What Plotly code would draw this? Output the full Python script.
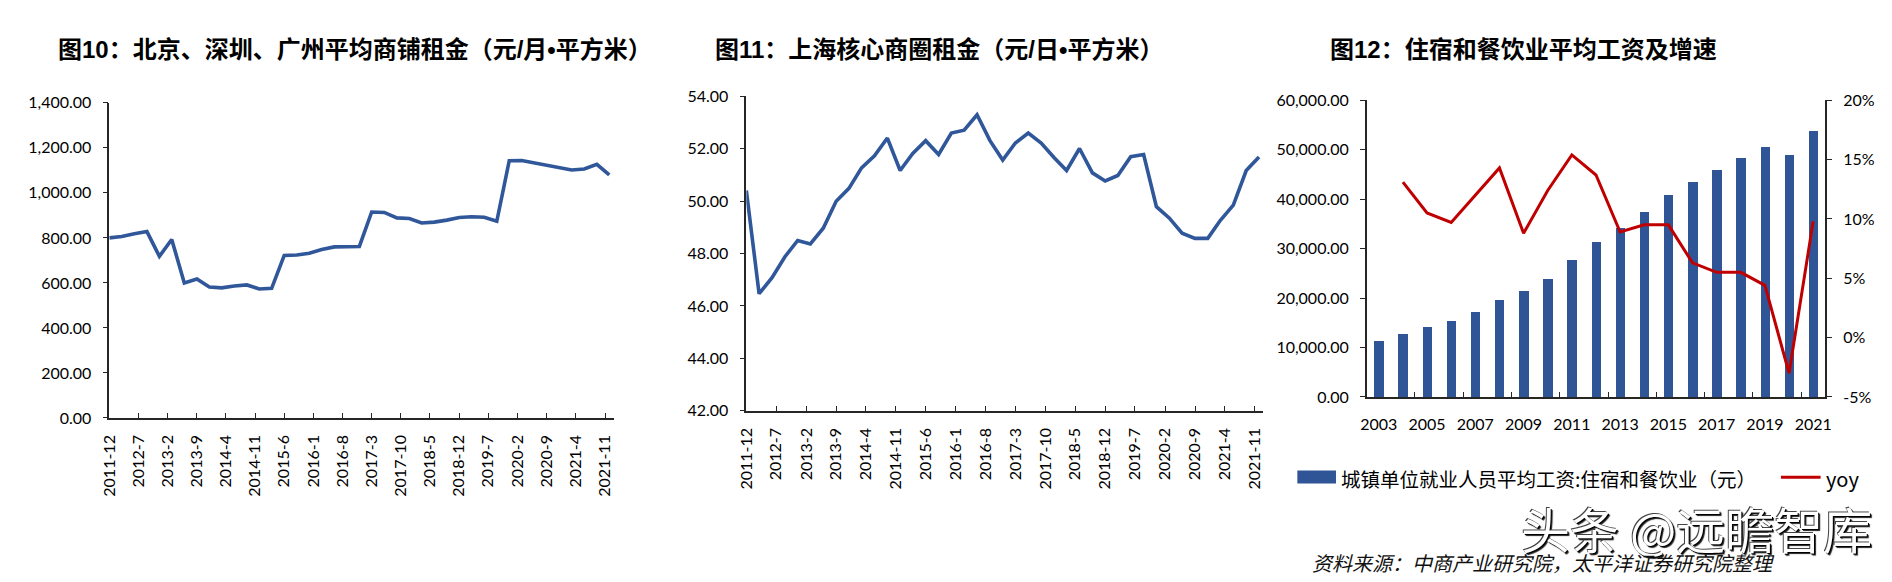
import plotly.graph_objects as go

W, H = 1892, 582

# ---------------- data ----------------
# quarterly observation months (shared by chart 1 and chart 2)
quarters = [
    "2011-12", "2012-03", "2012-06", "2012-09", "2012-12", "2013-03", "2013-06", "2013-09",
    "2013-12", "2014-03", "2014-06", "2014-09", "2014-12", "2015-03", "2015-06", "2015-09",
    "2015-12", "2016-03", "2016-06", "2016-09", "2016-12", "2017-03", "2017-06", "2017-09",
    "2017-12", "2018-03", "2018-06", "2018-09", "2018-12", "2019-03", "2019-06", "2019-09",
    "2019-12", "2020-03", "2020-06", "2020-09", "2020-12", "2021-03", "2021-06", "2021-09",
    "2021-12",
]

# 图10: 北京、深圳、广州平均商铺租金 (元/月·平方米)
rent_bsg = [
    800, 806, 818, 828, 718, 793, 600, 617, 582, 578,
    586, 591, 573, 576, 722, 724, 732, 748, 760, 760,
    762, 915, 913, 889, 886, 866, 870, 879, 891, 894,
    892, 874, 1143, 1144, 1133, 1122, 1109, 1102, 1106, 1127,
    1080,
]

# 图11: 上海核心商圈租金 (元/日·平方米)
rent_sh = [
    50.41, 46.47, 47.08, 47.88, 48.50, 48.37, 48.97, 50.00, 50.49, 51.27,
    51.73, 52.41, 51.17, 51.82, 52.31, 51.78, 52.60, 52.71, 53.30, 52.31,
    51.57, 52.22, 52.60, 52.22, 51.67, 51.17, 52.01, 51.08, 50.77, 50.98,
    51.70, 51.78, 49.79, 49.36, 48.78, 48.58, 48.58, 49.27, 49.85, 51.17,
    51.69,
]

month_tick_labels = [
    "2011-12", "2012-7", "2013-2", "2013-9", "2014-4", "2014-11", "2015-6", "2016-1",
    "2016-8", "2017-3", "2017-10", "2018-5", "2018-12", "2019-7", "2020-2", "2020-9",
    "2021-4", "2021-11",
]

# 图12: 住宿和餐饮业平均工资及增速
years = [2003, 2004, 2005, 2006, 2007, 2008, 2009, 2010, 2011, 2012,
         2013, 2014, 2015, 2016, 2017, 2018, 2019, 2020, 2021]
wage = [11200, 12650, 14090, 15330, 17150, 19560, 21330, 23870, 27590, 31300,
        34110, 37300, 40830, 43440, 45780, 48260, 50480, 48910, 53740]
yoy = [None, 13.1, 10.5, 9.7, 12.0, 14.3, 8.8, 12.4, 15.4, 13.7,
       8.9, 9.5, 9.5, 6.3, 5.5, 5.5, 4.4, -3.0, 9.8]
year_tick_labels = ["2003", "2005", "2007", "2009", "2011", "2013", "2015", "2017", "2019", "2021"]
pct_ticks = [-5, 0, 5, 10, 15, 20]
pct_tick_labels = ["-5%", "0%", "5%", "10%", "15%", "20%"]

titles = [
    "图10：北京、深圳、广州平均商铺租金（元/月•平方米）",
    "图11：上海核心商圈租金（元/日•平方米）",
    "图12：住宿和餐饮业平均工资及增速",
]
legend_bar = "城镇单位就业人员平均工资:住宿和餐饮业（元）"
legend_line = "yoy"
source_text = "资料来源：中商产业研究院，太平洋证券研究院整理"
watermark = "头条 @远瞻智库"

# ---------------- styles ----------------
BLUE = "#30579A"
BAR_BLUE = "#2F5597"
RED = "#C00000"
AXIS = "#262626"
TICKFONT = dict(family="Lato, 'Liberation Sans', sans-serif", size=16, color="#000000")
CJK = "'Noto Sans CJK SC', 'Noto Sans', sans-serif"
TITLE_FONT = "'Liberation Sans', 'Noto Sans CJK SC', sans-serif"


def px_x(p):
    return p / W


def px_y(p):
    return 1 - p / H


def month_date(s):
    y, m = s.split("-")
    return f"{y}-{int(m):02d}-01"


q_dates = [month_date(q) for q in quarters]
tick_dates = [month_date(t) for t in month_tick_labels]

fig = go.Figure()

fig.add_trace(go.Scatter(x=q_dates, y=rent_bsg, mode="lines", xaxis="x", yaxis="y",
                         line=dict(color=BLUE, width=3.6), showlegend=False))
fig.add_trace(go.Scatter(x=q_dates, y=rent_sh, mode="lines", xaxis="x2", yaxis="y2",
                         line=dict(color=BLUE, width=3.6), showlegend=False))
fig.add_trace(go.Bar(x=years, y=wage, xaxis="x3", yaxis="y3", width=0.39,
                     marker=dict(color=BAR_BLUE, line=dict(width=0)), showlegend=False))
fig.add_trace(go.Scatter(x=years, y=yoy, mode="lines", xaxis="x3", yaxis="y4",
                         line=dict(color=RED, width=3), connectgaps=False, showlegend=False))

common_axis = dict(showline=True, linecolor=AXIS, linewidth=1.5, showgrid=False,
                   zeroline=False, tickfont=TICKFONT, tickcolor=AXIS, tickwidth=1.3)

date_x = dict(common_axis, type="date", range=["2011-12-01", "2022-01-01"],
              tickmode="array", tickvals=tick_dates, ticktext=month_tick_labels,
              tickangle=-90, ticks="inside", ticklen=5, ticklabelstandoff=9)

fig.update_layout(
    width=W, height=H, autosize=False,
    margin=dict(l=0, r=0, t=0, b=0),
    paper_bgcolor="white", plot_bgcolor="white",
    showlegend=False,
    bargap=0,
    xaxis=dict(date_x, domain=[px_x(99.2), px_x(608)], anchor="y"),
    yaxis=dict(common_axis, domain=[px_y(421.7), px_y(96)], anchor="x",
               range=[0, 1400], dtick=200, tickformat=",.2f",
               ticks="outside", ticklen=5, ticklabelstandoff=8),
    xaxis2=dict(date_x, domain=[px_x(742), px_x(1263.7)], anchor="y2"),
    yaxis2=dict(common_axis, domain=[px_y(414.3), px_y(89.3)], anchor="x2",
                range=[42, 54], dtick=2, tickformat=".2f",
                ticks="outside", ticklen=5, ticklabelstandoff=8),
    xaxis3=dict(common_axis, domain=[px_x(1368), px_x(1830.7)], anchor="y3",
                range=[2002.5, 2021.5], tickmode="array",
                tickvals=[int(t) for t in year_tick_labels], ticktext=year_tick_labels,
                ticks="", ticklabelstandoff=12,
                minor=dict(tickmode="linear", tick0=2004.5, dtick=2, ticks="inside",
                           ticklen=5, tickcolor=AXIS, tickwidth=1.3, showgrid=False)),
    yaxis3=dict(common_axis, domain=[px_y(400), px_y(93.3)], anchor="x3",
                range=[0, 60000], dtick=10000, tickformat=",.2f",
                ticks="outside", ticklen=5, ticklabelstandoff=8),
    yaxis4=dict(common_axis, overlaying="y3", side="right", anchor="x3",
                range=[-5, 20], tickmode="array", tickvals=pct_ticks, ticktext=pct_tick_labels,
                ticks="outside", ticklen=5, ticklabelstandoff=8),
)

annotations = []
title_centers = [347, 936, 1526]
for t, cx in zip(titles, title_centers):
    annotations.append(dict(text=f"<b>{t}</b>", x=px_x(cx), y=px_y(41), xref="paper", yref="paper",
                            xanchor="center", yanchor="middle", showarrow=False,
                            font=dict(family=TITLE_FONT, size=24, color="#000000")))

# legend (chart 3)
annotations.append(dict(text=legend_bar, x=px_x(1340), y=px_y(484), xref="paper", yref="paper",
                        xanchor="left", yanchor="middle", showarrow=False,
                        font=dict(family=CJK, size=19.5, color="#000000")))
annotations.append(dict(text=legend_line, x=px_x(1829), y=px_y(484), xref="paper", yref="paper",
                        xanchor="left", yanchor="middle", showarrow=False,
                        font=dict(family=CJK, size=20, color="#000000")))
# watermark
annotations.append(dict(text=watermark, x=px_x(1701), y=px_y(535), xref="paper", yref="paper",
                        xanchor="center", yanchor="middle", showarrow=False,
                        font=dict(family=CJK, size=49, color="white",
                                  shadow="1px 1px 0px #000, -1px -1px 0px #444, 2px 2px 1px #222")))
# source
annotations.append(dict(text=source_text, x=px_x(1311), y=px_y(571), xref="paper", yref="paper",
                        xanchor="left", yanchor="middle", showarrow=False,
                        font=dict(family=CJK, size=20, color="#111111", style="italic")))

shapes = [
    dict(type="rect", xref="paper", yref="paper", x0=px_x(1298), x1=px_x(1337),
         y0=px_y(489.5), y1=px_y(476), fillcolor=BAR_BLUE, line=dict(width=0)),
    dict(type="line", xref="paper", yref="paper", x0=px_x(1786), x1=px_x(1826),
         y0=px_y(483), y1=px_y(483), line=dict(color=RED, width=3)),
]

fig.update_layout(annotations=annotations, shapes=shapes)

fig.write_html(
    "out.html",
    config={"displayModeBar": False},
    post_script="document.body.style.margin='0';document.body.style.overflow='hidden';",
)
